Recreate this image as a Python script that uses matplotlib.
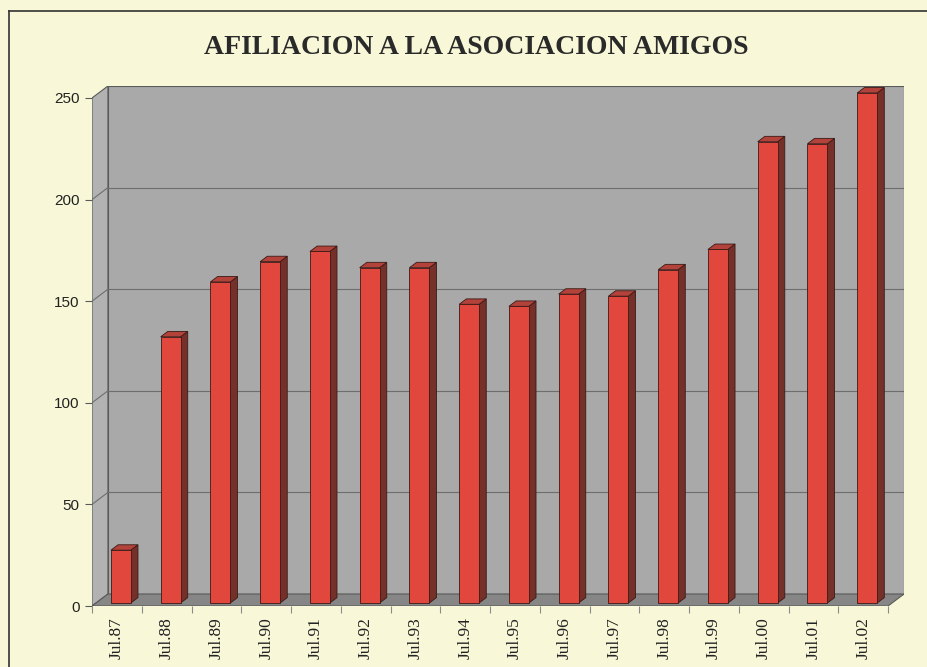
import numpy as np
import matplotlib.pyplot as plt
from matplotlib.patches import Polygon, Rectangle
from matplotlib.lines import Line2D

labels = ['Jul.87', 'Jul.88', 'Jul.89', 'Jul.90', 'Jul.91', 'Jul.92', 'Jul.93', 'Jul.94',
          'Jul.95', 'Jul.96', 'Jul.97', 'Jul.98', 'Jul.99', 'Jul.00', 'Jul.01', 'Jul.02']
members = [26, 131, 158, 168, 173, 165, 165, 147, 146, 152, 151, 164, 174, 227, 226, 251]
yticks = [0, 50, 100, 150, 200, 250]

W, H = 928, 667
fig = plt.figure(figsize=(W / 100, H / 100), dpi=100, facecolor='#f8f8d8')

# axes spans the front axis (left/bottom) plus the depth of the back wall
ax = fig.add_axes([92 / W, 1 - 606 / H, 812 / W, 520 / H])
ax.set_facecolor('none')
for s in ax.spines.values():
    s.set_visible(False)

n = len(labels)
dx, dy = 0.32, 5.9          # depth offset of the back wall, in data units
ymax = 250
ax.set_xlim(-0.5, n - 0.5 + dx)
ax.set_ylim(0, ymax + dy)

wall = '#a9a9a9'
grid_c = '#6e6e6e'
# back wall, left side wall, floor
ax.add_patch(Rectangle((-0.5 + dx, dy), n, ymax, facecolor=wall, edgecolor='#5a5a5a', lw=0.8, zorder=1))
ax.add_patch(Polygon([(-0.5, 0), (-0.5, ymax), (-0.5 + dx, ymax + dy), (-0.5 + dx, dy)],
                     closed=True, facecolor='#b2b2b2', edgecolor='#5a5a5a', lw=0.8, zorder=1))
ax.add_patch(Polygon([(-0.5, 0), (n - 0.5, 0), (n - 0.5 + dx, dy), (-0.5 + dx, dy)],
                     closed=True, facecolor='#868686', edgecolor='#5a5a5a', lw=0.8, zorder=2))

for v in yticks[1:-1]:
    ax.plot([-0.5 + dx, n - 0.5 + dx], [v + dy, v + dy], color=grid_c, lw=0.8, zorder=1.5)
    ax.plot([-0.5, -0.5 + dx], [v, v + dy], color=grid_c, lw=0.8, zorder=1.5)

# bars drawn as front face + side + top
bw = 0.40
off_x, off_y = 0.25 * dx, 0.25 * dy
bdx, bdy = 0.45 * dx, 0.45 * dy
front_c, side_c, top_c, edge_c = '#e2473d', '#76302a', '#b2423a', '#3a1a16'
for i, v in enumerate(members):
    x0 = i - bw / 2 + off_x
    x1 = x0 + bw
    y0 = off_y
    y1 = off_y + v
    ax.add_patch(Polygon([(x1, y0), (x1 + bdx, y0 + bdy), (x1 + bdx, y1 + bdy), (x1, y1)],
                         closed=True, facecolor=side_c, edgecolor=edge_c, lw=0.6, zorder=3))
    ax.add_patch(Polygon([(x0, y1), (x1, y1), (x1 + bdx, y1 + bdy), (x0 + bdx, y1 + bdy)],
                         closed=True, facecolor=top_c, edgecolor=edge_c, lw=0.6, zorder=3))
    ax.add_patch(Rectangle((x0, y0), bw, v, facecolor=front_c, edgecolor=edge_c, lw=0.6, zorder=4))

# y axis
ax.set_yticks(yticks)
ax.set_yticklabels([str(t) for t in yticks], fontsize=11, family='Liberation Sans', color='#222222')
ax.tick_params(axis='y', length=5, width=0.8, color='#5a5a5a', pad=4)

# x axis: labels at centres, tick marks between categories
ax.set_xticks(range(n))
ax.set_xticklabels(labels, rotation=90, fontsize=12.5, family='Liberation Serif', color='#222222')
ax.tick_params(axis='x', which='major', length=0, pad=8)
ax.set_xticks(np.arange(-0.5, n), minor=True)
ax.tick_params(axis='x', which='minor', length=5, width=0.8, color='#8a8a8a')

fig.text(476 / W, 1 - 47 / H, 'AFILIACION A LA ASOCIACION AMIGOS', ha='center', va='center',
         fontsize=20, fontweight='bold', family='Liberation Serif', color='#2a2a2a')

# frame of the scanned sheet
fig.add_artist(Line2D([9 / W, 9 / W], [0, 1 - 11 / H], transform=fig.transFigure, color='#333333', lw=1.2))
fig.add_artist(Line2D([9 / W, 1], [1 - 11 / H, 1 - 11 / H], transform=fig.transFigure, color='#333333', lw=1.2))

fig.savefig('out.png', dpi=100, facecolor=fig.get_facecolor())
